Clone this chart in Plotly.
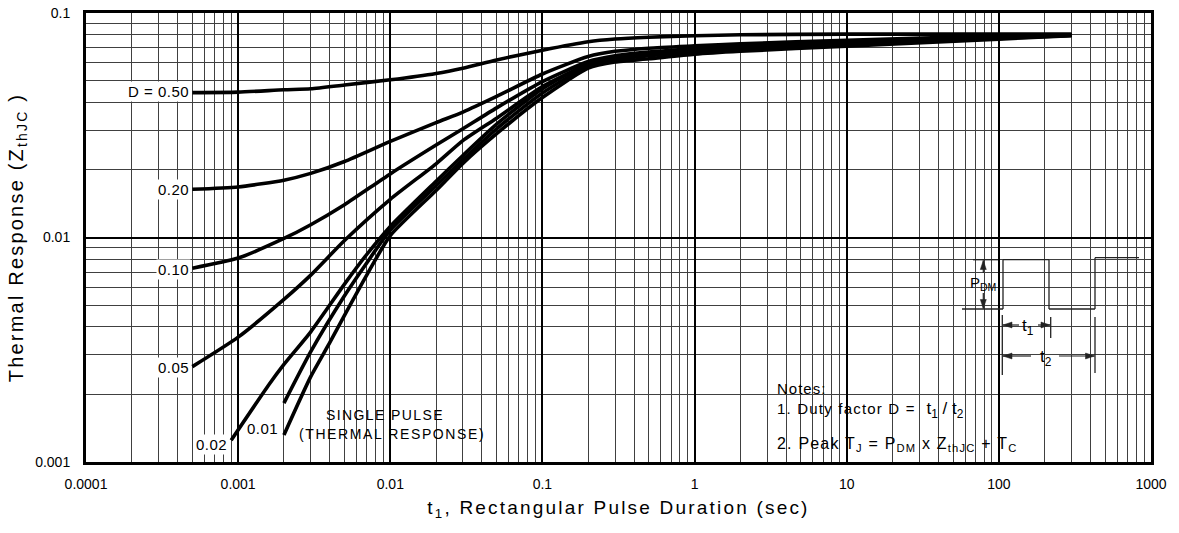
import math
import plotly.graph_objects as go

# ---------------- data ----------------
t_d50 = [0.0005, 0.001, 0.002, 0.003, 0.005, 0.01, 0.02, 0.03, 0.05, 0.1, 0.2, 0.3, 0.5, 1, 2, 10, 100, 300]
z_d50 = [0.0442, 0.0444, 0.0455, 0.046, 0.0478, 0.0504, 0.0538, 0.0568, 0.0618, 0.0683, 0.0745, 0.0766, 0.078, 0.0792, 0.080, 0.0805, 0.0805, 0.0805]

t_d20 = [0.0005, 0.001, 0.002, 0.003, 0.005, 0.01, 0.02, 0.03, 0.05, 0.1, 0.2, 0.3, 0.5, 1, 2, 10, 100, 300]
z_d20 = [0.0164, 0.0168, 0.018, 0.0193, 0.0218, 0.0268, 0.0325, 0.0362, 0.0425, 0.0535, 0.064, 0.0675, 0.0697, 0.0714, 0.073, 0.0755, 0.079, 0.080]

t_d10 = [0.0005, 0.001, 0.002, 0.003, 0.005, 0.01, 0.02, 0.03, 0.05, 0.1, 0.2, 0.3, 0.5, 1, 2, 10, 100, 300]
z_d10 = [0.0073, 0.0081, 0.0099, 0.0114, 0.0140, 0.0192, 0.0258, 0.0305, 0.0378, 0.0495, 0.0608, 0.0645, 0.067, 0.0693, 0.0715, 0.0745, 0.0785, 0.0798]

t_d05 = [0.0005, 0.001, 0.002, 0.003, 0.005, 0.01, 0.02, 0.03, 0.05, 0.1, 0.2, 0.3, 0.5, 1, 2, 10, 100, 300]
z_d05 = [0.00266, 0.0036, 0.0053, 0.0068, 0.0097, 0.0148, 0.0213, 0.027, 0.034, 0.047, 0.059, 0.063, 0.0662, 0.069, 0.0712, 0.074, 0.078, 0.0797]

t_d02 = [0.0009, 0.0016, 0.002, 0.003, 0.005, 0.007, 0.01, 0.02, 0.03, 0.05, 0.1, 0.2, 0.3, 0.5, 1, 2, 10, 100, 300]
z_d02 = [0.00125, 0.00222, 0.00272, 0.0038, 0.0062, 0.0084, 0.0112, 0.0178, 0.0232, 0.032, 0.046, 0.0595, 0.0632, 0.0658, 0.0685, 0.071, 0.0735, 0.0775, 0.0797]

t_d01 = [0.002, 0.003, 0.005, 0.007, 0.01, 0.02, 0.03, 0.05, 0.1, 0.2, 0.3, 0.5, 1, 2, 10, 100, 300]
z_d01 = [0.00183, 0.0031, 0.0055, 0.0077, 0.0108, 0.017, 0.0222, 0.0305, 0.044, 0.058, 0.062, 0.0645, 0.067, 0.069, 0.0725, 0.077, 0.0795]

t_single = [0.002, 0.003, 0.004, 0.005, 0.007, 0.01, 0.02, 0.03, 0.05, 0.1, 0.2, 0.3, 0.5, 1, 2, 10, 100, 300]
z_single = [0.00132, 0.0024, 0.0034, 0.0045, 0.0068, 0.0102, 0.0162, 0.0214, 0.029, 0.042, 0.0568, 0.0605, 0.0625, 0.0655, 0.0675, 0.0712, 0.0765, 0.0792]

curve_names = ["D = 0.50", "0.20", "0.10", "0.05", "0.02", "0.01", "SINGLE PULSE"]
x_tick_vals = [0.0001, 0.001, 0.01, 0.1, 1, 10, 100, 1000]
x_tick_text = ["0.0001", "0.001", "0.01", "0.1", "1", "10", "100", "1000"]
y_tick_vals = [0.001, 0.01, 0.1]
y_tick_text = ["0.001", "0.01", "0.1"]

# ---------------- layout helpers (page pixel -> paper) ----------------
W, H = 1179, 533
L, R, T, B = 86, 1151, 13, 462   # plot area in page pixels


def xp(px):
    return (px - L) / (R - L)


def yp(py):
    return (B - py) / (B - T)


def spaced(s, ls):
    return f"<span style='letter-spacing:{ls}px'>{s}</span>"


FONT = "Liberation Sans, Arial, Helvetica, sans-serif"

fig = go.Figure()
series = [(t_d50, z_d50), (t_d20, z_d20), (t_d10, z_d10), (t_d05, z_d05),
          (t_d02, z_d02), (t_d01, z_d01), (t_single, z_single)]
for (tx, zy), name in zip(series, curve_names):
    fig.add_trace(go.Scatter(x=tx, y=zy, mode="lines", name=name,
                             line=dict(color="black", width=3.6, shape="spline", smoothing=0.6),
                             showlegend=False, hoverinfo="x+y+name"))

shapes = []
# white boxes covering the grid (under the curves)
for (x0, y0, x1, y1) in [(770, 377, 1150, 461), (955, 249, 1150, 377), (298, 405, 488, 445),
                         (246, 418, 282, 437)]:
    shapes.append(dict(type="rect", xref="paper", yref="paper", x0=xp(x0), x1=xp(x1),
                       y0=yp(y1), y1=yp(y0), fillcolor="white", line=dict(width=0), layer="between"))

INK = "#222"


def seg(x0, y0, x1, y1, w=1.3):
    shapes.append(dict(type="line", xref="paper", yref="paper", x0=xp(x0), y0=yp(y0),
                       x1=xp(x1), y1=yp(y1), line=dict(color=INK, width=w), layer="above"))


def arrow(hx, hy, tx, ty, length=9.0, half=3.0):
    seg(tx, ty, hx, hy, 1.2)
    d = math.hypot(hx - tx, hy - ty)
    ux, uy = (hx - tx) / d, (hy - ty) / d
    bx, by = hx - ux * length, hy - uy * length
    px_, py_ = -uy * half, ux * half
    pts = [(hx, hy), (bx + px_, by + py_), (bx - px_, by - py_)]
    path = "M " + " L ".join(f"{xp(a):.5f},{yp(b):.5f}" for a, b in pts) + " Z"
    shapes.append(dict(type="path", xref="paper", yref="paper", path=path,
                       fillcolor=INK, line=dict(color=INK, width=0.5), layer="above"))


# pulse diagram
seg(962, 309, 1003, 309)
seg(1003, 309, 1003, 259.7)
seg(1003, 259.7, 1049, 259.7)
seg(1049, 259.7, 1049, 309)
seg(1049, 309, 1095, 309)
seg(1095, 309, 1095, 257.7)
seg(1095, 257.7, 1139, 257.7)
seg(973, 259.7, 998, 259.7)
seg(1002.3, 315, 1002.3, 375)
seg(1050.7, 317, 1050.7, 338)
seg(1095, 317, 1095, 373)
arrow(983.3, 260.5, 983.3, 273)
arrow(983.3, 308.5, 983.3, 293)
arrow(1003, 325, 1019, 325)
arrow(1050, 325, 1038, 325)
arrow(1003, 356, 1031, 356)
arrow(1094.5, 356, 1059, 356)

annotations = []


def txt(s, px, py, size=13, xa="center", ya="middle", bg=None):
    d = dict(xref="paper", yref="paper", x=xp(px), y=yp(py), text=s, showarrow=False,
             xanchor=xa, yanchor=ya, font=dict(family=FONT, size=size, color="black"))
    if bg:
        d.update(bgcolor=bg, borderpad=1)
    annotations.append(d)


txt("P<sub>DM</sub>", 983, 283, 15)
txt("t<sub>1</sub>", 1028, 327, 17)
txt("t<sub>2</sub>", 1046, 358, 17)

txt(spaced("Notes:", 1), 775, 388, 15, xa="left")
txt(spaced("1. Duty factor D =  ", 1.2) + "<span style='font-size:17px'>t<sub>1</sub> / t<sub>2</sub></span>",
    775, 410, 15, xa="left")
txt(spaced("2. Peak T<sub>J</sub> = P<sub>DM</sub> x Z<sub>thJC</sub> + T<sub>C</sub>", 1.2), 775, 444, 16, xa="left")

# curve labels
txt(spaced(curve_names[0], 0.5), 191, 92, 15, xa="right", bg="white")
txt(spaced(curve_names[1], 0.5), 191, 189, 15, xa="right", bg="white")
txt(spaced(curve_names[2], 0.5), 191, 269, 15, xa="right", bg="white")
txt(spaced(curve_names[3], 0.5), 191, 367, 15, xa="right", bg="white")
txt(spaced(curve_names[4], 0.5), 229, 444, 15, xa="right", bg="white")
txt(spaced(curve_names[5], 0.5), 280, 428, 15, xa="right")
txt(spaced(curve_names[6], 1.4), 385, 415, 14)
txt(spaced("(THERMAL RESPONSE)", 1.6), 392, 434, 14)

axis_common = dict(type="log", showline=True, mirror=True, linewidth=3, linecolor="black",
                   showgrid=True, gridcolor="black", gridwidth=2, ticks="", zeroline=False,
                   automargin=False, ticklabeloverflow="allow",
                   tickfont=dict(family=FONT, size=14, color="black"))

fig.update_layout(
    width=W, height=H,
    margin=dict(l=L, r=W - R, t=T, b=H - B),
    paper_bgcolor="white", plot_bgcolor="white",
    shapes=shapes, annotations=annotations,
    xaxis=dict(axis_common, range=[-4, 3], tickvals=x_tick_vals, ticktext=x_tick_text,
               minor=dict(dtick="D1", showgrid=True, gridcolor="#404040", gridwidth=1, ticks=""),
               ticklabelstandoff=7,
               title=dict(text=spaced("t<sub>1</sub>, Rectangular Pulse Duration (sec)", 2.2),
                          font=dict(family=FONT, size=19, color="black"), standoff=10)),
    yaxis=dict(axis_common, range=[-3, -1], tickvals=y_tick_vals, ticktext=y_tick_text,
               minor=dict(dtick="D1", showgrid=True, gridcolor="#404040", gridwidth=1, ticks=""),
               ticklabelstandoff=10,
               title=dict(text=spaced("Thermal Response (Z<sub>thJC</sub> )", 2.2),
                          font=dict(family=FONT, size=20, color="black"), standoff=7)),
    font=dict(family=FONT),
)

fig.write_html("out.html", config={"displayModeBar": False},
               post_script="document.body.style.margin='0px';")
